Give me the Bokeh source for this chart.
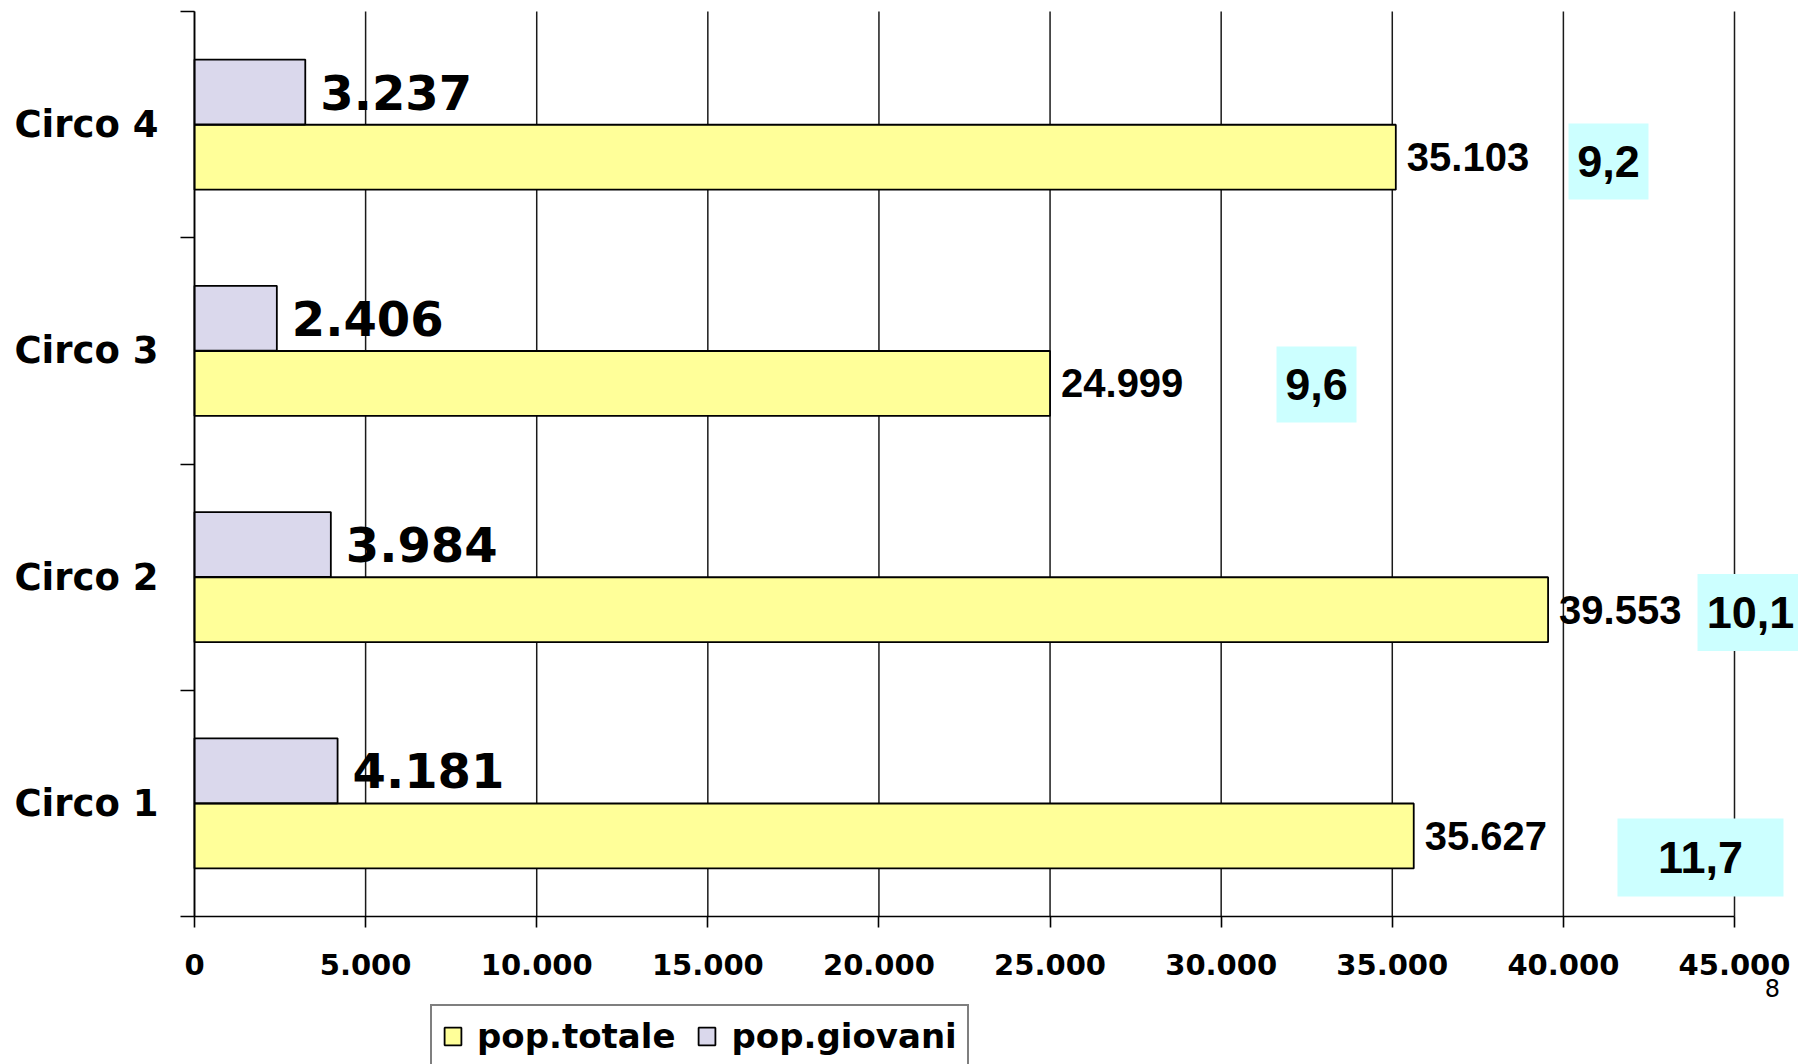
from bokeh.plotting import figure
from bokeh.models import (Range1d, FixedTicker, Legend, LegendItem, Label,
                          ColumnDataSource, LinearAxis)
from bokeh.core.properties import value
from bokeh.embed import file_html
from bokeh.resources import INLINE

# ---------------- data ----------------
categories = ["Circo 1", "Circo 2", "Circo 3", "Circo 4"]
pop_totale = [35627, 39553, 24999, 35103]
pop_giovani = [4181, 3984, 2406, 3237]
perc_giovani = ["11,7", "10,1", "9,6", "9,2"]
x_ticks = [0, 5000, 10000, 15000, 20000, 25000, 30000, 35000, 40000, 45000]
x_tick_labels = ["0", "5.000", "10.000", "15.000", "20.000", "25.000",
                 "30.000", "35.000", "40.000", "45.000"]
page_number = "8"

# ---------------- layout (placement only) ----------------
W, H = 1798, 1064
PX_X0, PX_X45 = 194, 1734          # pixel of x=0 and x=45000
PX_Y4, PX_Y0 = 11, 916             # pixel (from top) of y=4 and y=0
sx = (PX_X45 - PX_X0) / 45000.0
sy = (PX_Y0 - PX_Y4) / 4.0
x_start = -PX_X0 / sx
x_end = (W - PX_X0) / sx
y_end = 4 + PX_Y4 / sy
y_start = -(H - PX_Y0) / sy

pct_x = [44006, 45468, 32786, 41318]       # x of percentage boxes (data units)
pct_dy = [-0.239, -0.156, -0.149, -0.163]  # offset from category centre
pct_box_w = [166, 106, 80, 80]             # px
pct_box_h = [78, 77, 76, 76]               # px
BAR_OFF = 0.144
BAR_H = 0.287

def fmt(v):
    return f"{v:,}".replace(",", ".")

cat_pos = [i + 0.5 for i in range(len(categories))]
src = ColumnDataSource(dict(
    cat=categories,
    tot=pop_totale,
    gio=pop_giovani,
    y_tot=[c - BAR_OFF for c in cat_pos],
    y_gio=[c + BAR_OFF for c in cat_pos],
    tot_lbl=[fmt(v) for v in pop_totale],
    gio_lbl=[fmt(v) for v in pop_giovani],
    pct=perc_giovani,
    px=pct_x,
    py=[c + d for c, d in zip(cat_pos, pct_dy)],
    bw=pct_box_w,
    bh=pct_box_h,
))

p = figure(width=W, height=H,
           x_range=Range1d(x_start, x_end), y_range=Range1d(y_start, y_end),
           output_backend="svg", toolbar_location=None,
           x_axis_location=None, y_axis_location=None, min_border=0)
p.outline_line_color = None
p.background_fill_color = "white"
p.border_fill_color = "white"
p.grid.visible = False

# vertical grid lines (only within the plot area)
n = len(x_ticks)
p.segment(x0=x_ticks, y0=[0] * n, x1=x_ticks, y1=[4] * n,
          line_color="#1a1a1a", line_width=1.5)

# x axis
xa = LinearAxis(fixed_location=0, bounds=(0, 45000),
                ticker=FixedTicker(ticks=x_ticks))
xa.major_label_overrides = {t: l for t, l in zip(x_ticks, x_tick_labels)}
xa.major_tick_in = 0
xa.major_tick_out = 11
xa.minor_tick_line_color = None
xa.axis_line_width = 1.6
xa.major_tick_line_width = 1.6
xa.axis_line_color = "black"
xa.major_tick_line_color = "black"
xa.major_label_standoff = 26
xa.major_label_text_font = "DejaVu Sans"
xa.major_label_text_font_style = "bold"
xa.major_label_text_font_size = "29px"
xa.major_label_text_color = "black"
p.add_layout(xa, "below")

# y axis
ya = LinearAxis(fixed_location=0, bounds=(0, 4),
                ticker=FixedTicker(ticks=cat_pos, minor_ticks=[0, 1, 2, 3, 4]))
ya.major_label_overrides = {c: nm for c, nm in zip(cat_pos, categories)}
ya.major_tick_in = 0
ya.major_tick_out = 0
ya.minor_tick_in = 0
ya.minor_tick_out = 14
ya.minor_tick_line_color = "black"
ya.minor_tick_line_width = 1.6
ya.axis_line_width = 1.6
ya.axis_line_color = "black"
ya.major_label_standoff = 22
ya.major_label_text_font = "DejaVu Sans"
ya.major_label_text_font_style = "bold"
ya.major_label_text_font_size = "37px"
ya.major_label_text_color = "black"
p.add_layout(ya, "left")

# bars
r_tot = p.hbar(y="y_tot", left=0, right="tot", height=BAR_H, source=src,
               fill_color="#FFFF99", line_color="black", line_width=1.8)
r_gio = p.hbar(y="y_gio", left=0, right="gio", height=BAR_H, source=src,
               fill_color="#DAD8EC", line_color="black", line_width=1.8)

# value labels
p.text(x="tot", y="y_tot", text="tot_lbl", source=src, x_offset=11,
       text_align="left", text_baseline="middle",
       text_font=value("Liberation Sans"), text_font_style="bold",
       text_font_size="40px", text_color="black")
p.text(x="gio", y="y_gio", text="gio_lbl", source=src, x_offset=15,
       text_align="left", text_baseline="middle",
       text_font=value("DejaVu Sans"), text_font_style="bold",
       text_font_size="48px", text_color="black")

# percentage boxes
p.rect(x="px", y="py", width="bw", height="bh", width_units="screen",
       height_units="screen", source=src, fill_color="#CCFFFF", line_color=None)
p.text(x="px", y="py", text="pct", source=src,
       text_align="center", text_baseline="middle",
       text_font=value("Liberation Sans"), text_font_style="bold",
       text_font_size="45px", text_color="black")

# legend
legend = Legend(items=[LegendItem(label="pop.totale", renderers=[r_tot]),
                       LegendItem(label="pop.giovani", renderers=[r_gio])],
                orientation="horizontal", location=(430, -4))
legend.label_text_font = "DejaVu Sans"
legend.label_text_font_style = "bold"
legend.label_text_font_size = "34px"
legend.label_text_color = "black"
legend.glyph_width = 21
legend.glyph_height = 22
legend.label_standoff = 14
legend.spacing = 21
legend.padding = 10
legend.margin = 0
legend.border_line_color = "black"
legend.border_line_width = 2
legend.background_fill_color = "white"
legend.background_fill_alpha = 1
p.add_layout(legend)

# page number
p.add_layout(Label(x=46110, y=-0.318, text=page_number, text_font="DejaVu Sans",
                   text_font_size="24px", text_align="center",
                   text_baseline="middle", text_color="black"))

open("out.html", "w").write(file_html(p, INLINE))
